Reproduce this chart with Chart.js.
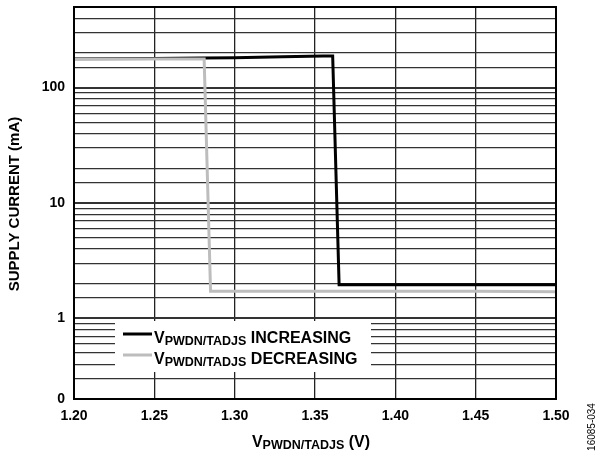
<!DOCTYPE html>
<html>
<head>
<meta charset="utf-8">
<script src="https://cdn.jsdelivr.net/npm/chart.js@4.4.0/dist/chart.umd.min.js"></script>
<style>
    html, body { margin: 0; padding: 0; background: #fff; }
    #wrap { width: 600px; height: 457px; position: relative; }
</style>
</head>
<body>
<div id="wrap"><canvas id="chart1" width="600" height="457"></canvas></div>
<script>
// 데이터
const incX = [1.20, 1.25, 1.28, 1.30, 1.33, 1.355, 1.361, 1.365, 1.40, 1.45, 1.50];
const incY = [178, 179, 181, 182, 185, 188, 188, 1.96, 1.96, 1.96, 1.96];
const decX = [1.20, 1.25, 1.281, 1.285, 1.35, 1.45, 1.50];
const decY = [177, 177, 177, 1.72, 1.72, 1.72, 1.70];
const xTicks = [1.20, 1.25, 1.30, 1.35, 1.40, 1.45, 1.50];
const yLabels = { 0.2: '0', 1: '1', 10: '10', 100: '100' };

const FONT = '"Liberation Sans", Arial, sans-serif';

function toPoints(xs, ys) {
    return xs.map((x, i) => ({ x: x, y: ys[i] }));
}

// 범례, 축 제목, 테두리 그리기
const decorPlugin = {
    id: 'decor',
    afterDraw(chart) {
        const ctx = chart.ctx;
        const a = chart.chartArea;
        ctx.save();

        // 테두리
        ctx.strokeStyle = '#000';
        ctx.lineWidth = 2;
        ctx.strokeRect(a.left, a.top, a.right - a.left, a.bottom - a.top);

        // 범례 박스
        ctx.fillStyle = '#fff';
        ctx.fillRect(115, 321, 256, 51);
        const rows = [
            { y: 343, color: '#000', word: 'INCREASING' },
            { y: 364, color: '#bdbdbd', word: 'DECREASING' }
        ];
        rows.forEach(r => {
            ctx.strokeStyle = r.color;
            ctx.lineWidth = 3;
            ctx.beginPath();
            ctx.moveTo(123, r.y - 9);
            ctx.lineTo(152, r.y - 9);
            ctx.stroke();
            drawVLabel(ctx, 154, r.y, ' ' + r.word);
        });

        // x축 제목
        ctx.font = 'bold 16px ' + FONT;
        const w1 = ctx.measureText('V').width;
        const w3 = ctx.measureText(' (V)').width;
        ctx.font = 'bold 12.5px ' + FONT;
        const w2 = ctx.measureText('PWDN/TADJS').width;
        drawVLabel(ctx, 311 - (w1 + w2 + w3) / 2, 447, ' (V)');

        // y축 제목
        ctx.fillStyle = '#000';
        ctx.font = 'bold 15px ' + FONT;
        ctx.textAlign = 'center';
        ctx.textBaseline = 'middle';
        ctx.translate(15, 204);
        ctx.rotate(-Math.PI / 2);
        ctx.fillText('SUPPLY CURRENT (mA)', 0, 0);
        ctx.restore();

        // 도면 번호
        ctx.save();
        ctx.fillStyle = '#000';
        ctx.font = '10px ' + FONT;
        ctx.textAlign = 'center';
        ctx.textBaseline = 'middle';
        ctx.translate(592, 427);
        ctx.rotate(-Math.PI / 2);
        ctx.fillText('16085-034', 0, 0);
        ctx.restore();
    }
};

// V + 아래첨자 + 나머지 글자
function drawVLabel(ctx, x, base, tail) {
    ctx.fillStyle = '#000';
    ctx.textAlign = 'left';
    ctx.textBaseline = 'alphabetic';
    ctx.font = 'bold 16px ' + FONT;
    ctx.fillText('V', x, base);
    x += ctx.measureText('V').width;
    ctx.font = 'bold 12.5px ' + FONT;
    ctx.fillText('PWDN/TADJS', x, base + 2);
    x += ctx.measureText('PWDN/TADJS').width;
    ctx.font = 'bold 16px ' + FONT;
    ctx.fillText(tail, x, base);
}

function isDecade(v) {
    const l = Math.log10(v);
    return Math.abs(l - Math.round(l)) < 1e-6;
}

new Chart(document.getElementById('chart1'), {
    type: 'line',
    data: {
        datasets: [
            {
                label: 'decreasing',
                data: toPoints(decX, decY),
                borderColor: '#bdbdbd',
                borderWidth: 3,
                pointRadius: 0,
                fill: false,
                tension: 0,
                order: 0
            },
            {
                label: 'increasing',
                data: toPoints(incX, incY),
                borderColor: '#000',
                borderWidth: 3,
                pointRadius: 0,
                fill: false,
                tension: 0,
                order: 1
            }
        ]
    },
    options: {
        responsive: false,
        animation: false,
        layout: { padding: { top: 7, right: 44, left: 0, bottom: 0 } },
        plugins: { legend: { display: false }, tooltip: { enabled: false } },
        scales: {
            x: {
                type: 'linear',
                min: 1.2,
                max: 1.5,
                afterFit: s => { s.height = 58; s.paddingLeft = 0; s.paddingRight = 0; },
                afterBuildTicks: s => { s.ticks = xTicks.map(v => ({ value: v })); },
                grid: { color: '#222', lineWidth: 1.3, drawTicks: false },
                border: { display: false },
                ticks: {
                    padding: 9,
                    color: '#000',
                    font: { family: FONT, size: 14, weight: 'bold' },
                    callback: v => Number(v).toFixed(2)
                }
            },
            y: {
                type: 'logarithmic',
                min: 0.2,
                max: 500,
                afterFit: s => { s.width = 74; s.paddingTop = 0; s.paddingBottom = 0; },
                grid: {
                    color: '#333',
                    lineWidth: c => (c.tick && isDecade(c.tick.value)) ? 2 : 1.2,
                    drawTicks: false
                },
                border: { display: false },
                ticks: {
                    autoSkip: false,
                    padding: 9,
                    color: '#000',
                    font: { family: FONT, size: 14, weight: 'bold' },
                    callback: v => {
                        const k = Math.round(v * 10) / 10;
                        return yLabels[k] !== undefined ? yLabels[k] : '';
                    }
                }
            }
        }
    },
    plugins: [decorPlugin]
});
</script>
</body>
</html>
